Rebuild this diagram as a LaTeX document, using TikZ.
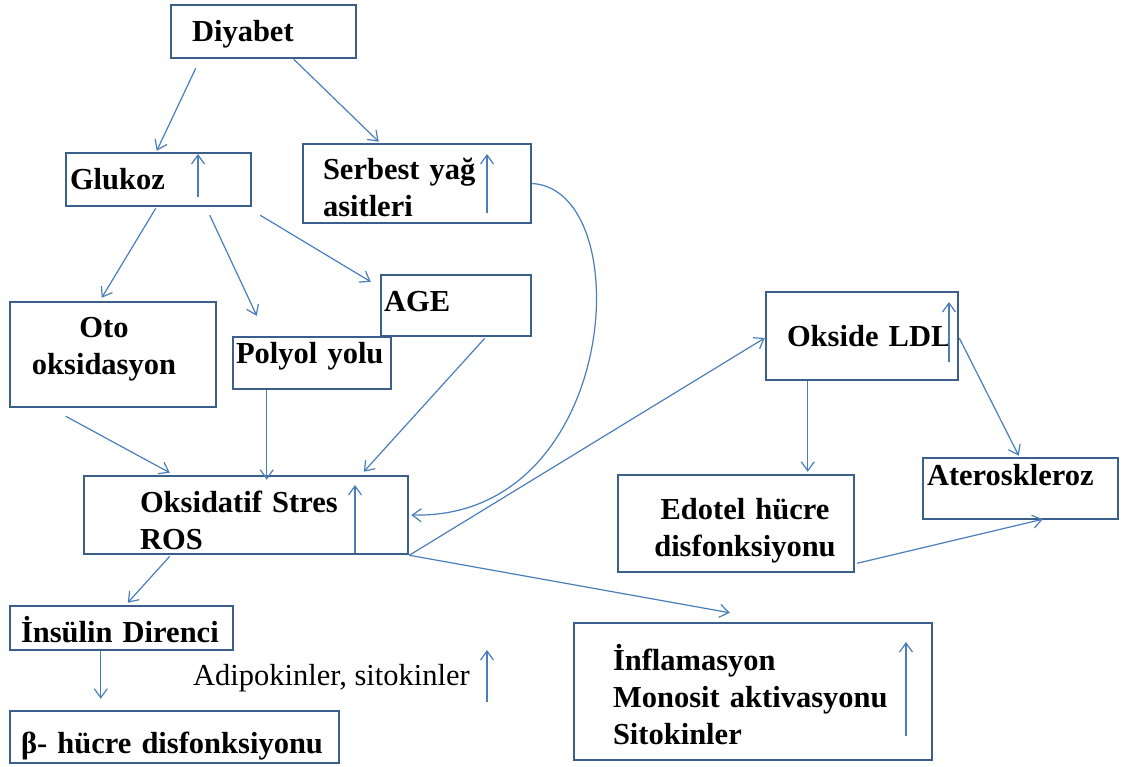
\documentclass[tikz,border=0pt]{standalone}
\usepackage{fontspec}
\setmainfont{Liberation Serif}
\usetikzlibrary{arrows.meta,calc}
\definecolor{boxblue}{HTML}{3A5F8B}
\definecolor{arrblue}{HTML}{4A7EBB}
\tikzset{
  bx/.style={draw=boxblue, line width=2.5pt, inner ysep=0pt, align=left,
    font=\fontsize{30.5}{37}\selectfont\bfseries},
  arr/.style={draw=arrblue, line width=1.2pt, -{Straight Barb[length=9pt,width=13pt]}},
}
\begin{document}
\begin{tikzpicture}[x=1pt,y=-1pt]
\useasboundingbox (0,0) rectangle (1123,766);
\path node[bx, minimum height=53pt, text width=143pt, inner xsep=21pt, text height=25pt, text depth=6pt] (diyabet) at (263.5,31.5) {Diyabet}
node[bx, minimum height=53pt, text width=177pt, inner xsep=4pt, text height=25pt, text depth=6pt] (glukoz) at (158.5,179.5) {Glukoz}
node[bx, minimum height=79pt, text width=188pt, inner xsep=20pt, text height=21pt, text depth=30pt] (serbest) at (417,183.5) {Serbest~yağ\\asitleri}
node[bx, minimum height=105pt, text width=186pt, inner xsep=10pt, align=center, text height=21pt, text depth=56pt] (oto) at (113,354.5) {\hspace*{-18pt}Oto\\\hspace*{-18pt}oksidasyon}
node[bx, minimum height=61pt, text width=144pt, inner xsep=3pt, text height=21pt, text depth=10pt] (age) at (456,305.5) {AGE}
node[bx, minimum height=52pt, text width=152pt, inner xsep=3pt, text height=18pt, text depth=18pt] (polyol) at (312,363) {Polyol~yolu}
node[bx, minimum height=78pt, text width=212pt, inner xsep=56pt, text height=21pt, text depth=27pt] (oks) at (246,515) {Oksidatif~Stres\\ROS}
node[bx, minimum height=44pt, text width=201pt, inner xsep=11pt, text height=34pt, text depth=6pt] (insulin) at (121.5,628) {İnsülin~Direnci}
node[bx, minimum height=52pt, text width=307pt, inner xsep=11pt, text height=38pt, text depth=6pt] (beta) at (174.5,737) {β-~hücre~disfonksiyonu}
node[bx, minimum height=88pt, text width=150pt, inner xsep=21pt, text height=26pt, text depth=6pt] (ldl) at (862,336) {Okside~LDL}
node[bx, minimum height=97pt, text width=216pt, inner xsep=10pt, align=center, text height=21pt, text depth=30pt] (edotel) at (736,523.5) {\hspace*{18pt}Edotel~hücre\\\hspace*{18pt}disfonksiyonu}
node[bx, minimum height=61pt, text width=187pt, inner xsep=4pt, text height=22pt, text depth=29pt] (atero) at (1020.5,488.5) {Ateroskleroz}
node[bx, minimum height=137pt, text width=280pt, inner xsep=39pt, text height=21pt, text depth=64pt] (infl) at (753,691.5) {İnflamasyon\\Monosit~aktivasyonu\\Sitokinler}
node[font=\fontsize{30.5}{37}\selectfont, anchor=base west, inner sep=0pt] (adipo) at (193,685) {Adipokinler, sitokinler}
;
\draw[arr] ($(diyabet.south west)+(26,9)$) -- ($(glukoz.north west)+(92,-1)$);
\draw[arr] ($(diyabet.south west)+(124,0)$) -- ($(serbest.north west)+(77,-1)$);
\draw[arr] ($(glukoz.south west)+(91,1)$) -- ($(oto.north west)+(93,-3)$);
\draw[arr] ($(glukoz.south west)+(145,8)$) -- ($(polyol.north west)+(25,-20)$);
\draw[arr] ($(glukoz.south east)+(8,8)$) -- ($(age.north west)+(-9,8)$);
\draw[arr] ($(oto.south west)+(57,8)$) -- ($(oks.north west)+(87,-2)$);
\draw[arr] ($(polyol.south west)+(35,0)$) -- ($(oks.north west)+(184,5)$);
\draw[arr] ($(age.south west)+(105,1)$) -- ($(oks.north west)+(281,-3)$);
\draw[arr] (serbest.east) .. controls (640,190) and (620,520) .. ($(oks.east)+(2,0)$);
\draw[arr] (oks.south east) -- ($(ldl.west)+(0,2)$);
\draw[arr] (oks.south east) -- ($(infl.north west)+(157,-9)$);
\draw[arr] ($(oks.south west)+(87,1)$) -- ($(insulin.north west)+(119,-2)$);
\draw[arr] ($(insulin.south west)+(92,0)$) -- ($(beta.north west)+(92,-11)$);
\draw[arr] ($(ldl.south west)+(43,0)$) -- ($(edotel.north west)+(191,-2)$);
\draw[arr] ($(ldl.east)+(0,2)$) -- ($(atero.north west)+(97,-1)$);
\draw[arr] ($(edotel.south east)+(2,-10)$) -- ($(atero.south west)+(121,-1)$);
\draw[arr] (198,197) -- (198,154);
\draw[arr] (487,213) -- (487,154);
\draw[arr] (355,553) -- (355,485);
\draw[arr] (949,362) -- (949,302);
\draw[arr] (906,736) -- (906,642);
\draw[arr] (487,702) -- (487,650);
\end{tikzpicture}
\end{document}
